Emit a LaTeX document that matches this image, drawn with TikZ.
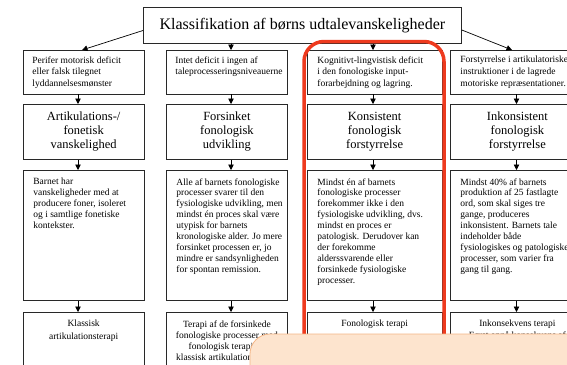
\documentclass[tikz,border=0pt]{standalone}
\usepackage{fontspec}
\setmainfont{Liberation Serif}
\usetikzlibrary{arrows.meta}
\definecolor{hlred}{RGB}{238,58,30}
\definecolor{peach}{RGB}{253,228,206}
\definecolor{peachedge}{RGB}{244,182,135}
\definecolor{boxline}{RGB}{40,40,40}
\newcommand\pbt[4]{\parbox[c][#2][t]{#1}{\leftskip=#3\rightskip=0pt plus 1fil\parfillskip=0pt plus 1fil #4}}
\newcommand\pbc[3]{\parbox[c][#2][c]{#1}{\centering #3}}
\newcommand\pbct[3]{\parbox[c][#2][t]{#1}{\centering #3}}
\tikzset{
  bx/.style={draw=boxline, line width=0.8pt, anchor=north west, inner sep=0pt},
  rowa/.style={bx, inner ysep=6pt, font=\fontsize{9.5}{11.7}\selectfont},
  rowb/.style={bx, inner ysep=0pt, font=\fontsize{12.5}{14}\selectfont},
  rowc/.style={bx, inner ysep=8pt, font=\fontsize{9.5}{10.9}\selectfont},
  rowd/.style={bx, inner ysep=8pt, font=\fontsize{9.5}{11.3}\selectfont},
  arr/.style={-{Triangle[length=5.5pt,width=5.5pt]}, line width=0.7pt, draw=black},
}
\begin{document}
\begin{tikzpicture}[x=1pt,y=-1pt]
\useasboundingbox (0,0) rectangle (567,364);
\clip (0,0) rectangle (567,364);
\fill[white] (0,0) rectangle (567,364);
% column arrow axes
\coordinate (a1) at (78,0);
\coordinate (a2) at (231,0);
\coordinate (a3) at (373,0);
\coordinate (a4) at (516.5,0);
% title
\node[bx, minimum width=318pt, minimum height=36.5pt, font=\fontsize{16}{18}\selectfont] (title) at (143,6.5) {Klassifikation af børns udtalevanskeligheder};
% row 1
\node[rowa] (r1c1) at (23,50) {\pbt{120.5pt}{31.5pt}{9pt}{Perifer motorisk deficit\\eller falsk tilegnet\\lyddannelsesmønster}};
\node[rowa] (r1c2) at (166,50) {\pbt{121pt}{31.5pt}{9pt}{Intet deficit i ingen af\\taleprocesseringsniveauerne}};
\node[rowa] (r1c3) at (307,50) {\pbt{134.5pt}{31.5pt}{10pt}{Kognitivt-lingvistisk deficit\\i den fonologiske input-\\forarbejdning og lagring.}};
\node[rowa] (r1c4) at (450,50) {\pbt{134pt}{31.5pt}{10pt}{Forstyrrelse i artikulatoriske\\instruktioner i de lagrede\\motoriske repræsentationer.}};
% row 2
\node[rowb] (r2c1) at (23,104) {\pbc{120.5pt}{55pt}{Artikulations-/\\fonetisk\\vanskelighed}};
\node[rowb] (r2c2) at (166,104) {\pbc{121pt}{55pt}{Forsinket\\fonologisk\\udvikling}};
\node[rowb] (r2c3) at (307,104) {\pbc{134.5pt}{55pt}{Konsistent\\fonologisk\\forstyrrelse}};
\node[rowb] (r2c4) at (450,104) {\pbc{134pt}{55pt}{Inkonsistent\\fonologisk\\forstyrrelse}};
% row 3
\node[rowc] (r3c1) at (23,170) {\pbt{120.5pt}{114pt}{10pt}{Barnet har\\vanskeligheder med at\\producere foner, isoleret\\og i samtlige fonetiske\\kontekster.}};
\node[rowc] (r3c2) at (166,170) {\pbt{121pt}{114pt}{10pt}{Alle af barnets fonologiske\\processer svarer til den\\fysiologiske udvikling, men\\mindst én proces skal være\\utypisk for barnets\\kronologiske alder. Jo mere\\forsinket processen er, jo\\mindre er sandsynligheden\\for spontan remission.}};
\node[rowc] (r3c3) at (307,170) {\pbt{134.5pt}{114pt}{10pt}{Mindst én af barnets\\fonologiske processer\\forekommer ikke i den\\fysiologiske udvikling, dvs.\\mindst en proces er\\patologisk. Derudover kan\\der forekomme\\alderssvarende eller\\forsinkede fysiologiske\\processer.}};
\node[rowc] (r3c4) at (450,170) {\pbt{134pt}{114pt}{10pt}{Mindst 40\% af barnets\\produktion af 25 fastlagte\\ord, som skal siges tre\\gange, produceres\\inkonsistent. Barnets tale\\indeholder både\\fysiologiskes og patologiske\\processer, som varier fra\\gang til gang.}};
% row 4
\node[rowd] (r4c1) at (23,312) {\pbct{120.5pt}{64pt}{Klassisk\\[1.5pt]artikulationsterapi}};
\node[rowd] (r4c2) at (166,312) {\pbct{121pt}{64pt}{Terapi af de forsinkede\\fonologiske processer med\\fonologisk terapi og\\klassisk artikulationsterapi}};
\node[rowd] (r4c3) at (307,312) {\pbct{134.5pt}{64pt}{Fonologisk terapi}};
\node[rowd] (r4c4) at (450,312) {\pbct{134pt}{64pt}{Inkonsekvens terapi\\Først opnå konsekvens af}};
% arrows from title
\draw[arr] (title.west |- 0,30.5) -- (r1c1.north -| 82,0);
\draw[arr] (title.south -| a2) -- (r1c2.north -| a2);
\draw[arr] (title.south -| a3) -- (r1c3.north -| a3);
\draw[arr] (title.east |- 0,30) -- (r1c4.north -| 512,0);
% arrows between rows
\foreach \c in {1,2,3,4}{
  \draw[arr] (r1c\c.south -| a\c) -- (r2c\c.north -| a\c);
  \draw[arr] (r2c\c.south -| a\c) -- (r3c\c.north -| a\c);
  \draw[arr] (r3c\c.south -| a\c) -- (r4c\c.north -| a\c);
}
% highlight
\draw[hlred, line width=3.5pt, rounded corners=20pt] (304,41.5) rectangle (444,440);
% overlay
\draw[fill=peach, draw=peachedge, line width=0.8pt, rounded corners=20pt] (250,334) rectangle (640,440);
\end{tikzpicture}
\end{document}
